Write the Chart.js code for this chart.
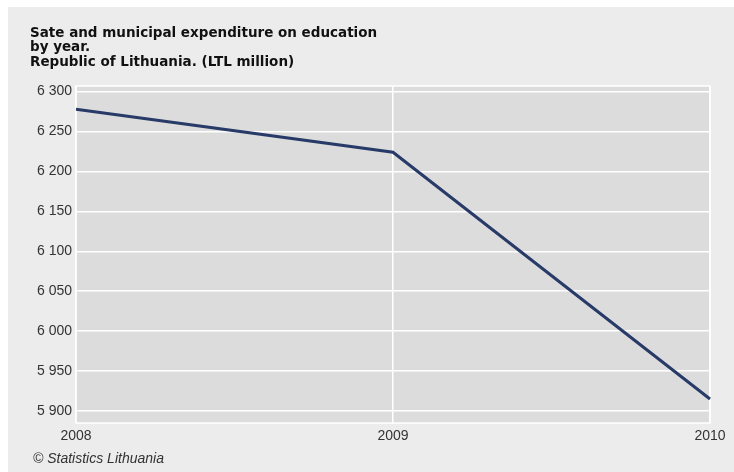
<!DOCTYPE html>
<html>
<head>
<meta charset="utf-8">
<script src="https://cdn.jsdelivr.net/npm/chart.js@4"></script>
<style>
  html, body { margin: 0; padding: 0; background: #ffffff; }
  #wrap { width: 734px; height: 472px; }
</style>
</head>
<body>
<div id="wrap"><canvas id="chartContainer1" width="734" height="472"></canvas></div>
<script>
// data
const years = ['2008', '2009', '2010'];
const expenditure = [6278, 6224, 5915];
const yTicks = [5900, 5950, 6000, 6050, 6100, 6150, 6200, 6250, 6300];
const titleLines = ['Sate and municipal expenditure on education', 'by year.', 'Republic of Lithuania. (LTL million)'];
const footerText = '\u00A9 Statistics Lithuania';

function fmt(v) {
    // 6300 -> "6 300"
    const s = String(v);
    return s.length > 3 ? s.slice(0, s.length - 3) + ' ' + s.slice(-3) : s;
}

// grey panel, plot background, title and footer
const panelPlugin = {
    id: 'panel',
    beforeDraw(chart) {
        const ctx = chart.ctx;
        const a = chart.chartArea;
        ctx.save();
        ctx.fillStyle = '#ececec';
        ctx.fillRect(8, 7, chart.width - 8, chart.height - 7);
        ctx.fillStyle = '#dcdcdc';
        ctx.fillRect(a.left, a.top, a.right - a.left, a.bottom - a.top);
        ctx.fillStyle = '#111111';
        ctx.font = 'bold 13.5px "DejaVu Sans", Verdana, sans-serif';
        ctx.textBaseline = 'middle';
        titleLines.forEach((t, i) => ctx.fillText(t, 30, 33 + i * 14.5));
        ctx.fillStyle = '#333333';
        ctx.font = 'italic 14px "Liberation Sans", Arial, sans-serif';
        ctx.fillText(footerText, 33, 459);
        ctx.restore();
    },
    beforeDatasetsDraw(chart) {
        const ctx = chart.ctx;
        const a = chart.chartArea;
        ctx.save();
        ctx.strokeStyle = '#ffffff';
        ctx.lineWidth = 1.5;
        ctx.strokeRect(a.left, a.top, a.right - a.left, a.bottom - a.top);
        ctx.restore();
    }
};

const ctx = document.getElementById('chartContainer1').getContext('2d');
new Chart(ctx, {
    type: 'line',
    data: {
        labels: years,
        datasets: [{
            data: expenditure,
            borderColor: '#283a68',
            borderWidth: 3,
            pointRadius: 0,
            tension: 0,
            fill: false
        }]
    },
    options: {
        responsive: false,
        animation: false,
        layout: { padding: { left: 0, top: 86, right: 24, bottom: 0 } },
        scales: {
            x: {
                type: 'category',
                offset: false,
                afterFit(scale) { scale.height = 49; },
                grid: { color: '#ffffff', lineWidth: 1.5, drawTicks: false },
                border: { display: false },
                ticks: {
                    color: '#333333',
                    padding: 5,
                    maxRotation: 0,
                    font: { family: '"Liberation Sans", Arial, sans-serif', size: 14 }
                }
            },
            y: {
                min: 5885,
                max: 6307,
                afterFit(scale) { scale.width = 76; },
                afterBuildTicks(scale) { scale.ticks = yTicks.map(v => ({ value: v })); },
                grid: { color: '#ffffff', lineWidth: 1.5, drawTicks: false },
                border: { display: false },
                ticks: {
                    color: '#333333',
                    padding: 4,
                    font: { family: '"Liberation Sans", Arial, sans-serif', size: 14 },
                    callback: function(value) { return fmt(value); }
                }
            }
        },
        plugins: {
            legend: { display: false },
            tooltip: { enabled: false },
            title: { display: false }
        }
    },
    plugins: [panelPlugin]
});
</script>
</body>
</html>
